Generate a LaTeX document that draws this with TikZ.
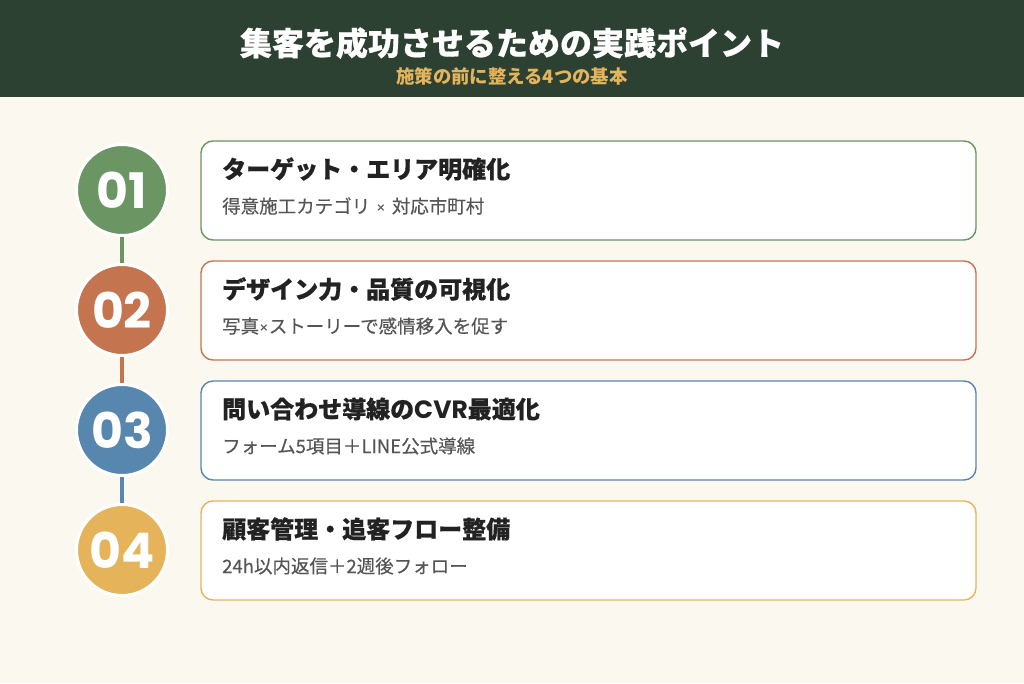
\documentclass[tikz,border=0pt]{standalone}
\usepackage{fontspec}
\setmainfont{Noto Sans CJK JP}
\newfontfamily\numfont{Poppins}
\newfontfamily\medfont{Noto Sans CJK JP}[FakeBold=0.35]
\newfontfamily\heavyfont{Noto Sans CJK JP}[BoldFeatures={FakeBold=0.6}]
\definecolor{bgc}{HTML}{FBF8EF}
\definecolor{headc}{HTML}{2D4133}
\definecolor{goldc}{HTML}{E3B45C}
\definecolor{c1}{HTML}{6B9563}
\definecolor{c2}{HTML}{C4744F}
\definecolor{c3}{HTML}{5786AE}
\definecolor{c4}{HTML}{E5B45A}
\definecolor{tdark}{HTML}{222222}
\definecolor{tgray}{HTML}{555555}
\tikzset{
  numcircle/.style={circle, draw=white, line width=3pt, minimum size=91pt, inner sep=0pt, text=white, font=\numfont\bfseries\fontsize{49}{49}\selectfont},
  cardbox/.style={draw=#1, line width=1.4pt, fill=white, rounded corners=12pt, minimum width=775pt, minimum height=99pt, inner sep=0pt},
  cardtitle/.style={anchor=west, inner sep=0pt, text=tdark, font=\heavyfont\bfseries\fontsize{24}{24}\selectfont},
  cardsub/.style={anchor=west, inner sep=0pt, text=tgray, font=\medfont\fontsize{18.5}{18.5}\selectfont},
  linkline/.style={draw=#1, line width=4pt}
}
\newcommand{\smalltimes}{{\numfont\fontsize{15}{15}\selectfont ×}}
\begin{document}
\begin{tikzpicture}[x=1pt,y=-1pt]
\useasboundingbox (0,0) rectangle (1024,683);
\fill[bgc] (0,0) rectangle (1024,683);
\fill[headc] (0,0) rectangle (1024,97);
\node[inner sep=0pt, text=white, font=\heavyfont\bfseries\fontsize{32}{32}\selectfont] (title) at (512,43) {集客を成功させるための実践ポイント};
\node[inner sep=0pt, text=goldc, font=\bfseries\fontsize{18.4}{18.4}\selectfont] (subtitle) at (512,76) {施策の前に整える4つの基本};
% circles
\coordinate (p1) at (122,190);
\coordinate (p2) at (122,310);
\coordinate (p3) at (122,430);
\coordinate (p4) at (122,550);
\path[linkline=c1] (p1) -- (p2);
\path[linkline=c2] (p2) -- (p3);
\path[linkline=c3] (p3) -- (p4);
\node[numcircle, fill=c1] (n1) at (p1) {01};
\node[numcircle, fill=c2] (n2) at (p2) {02};
\node[numcircle, fill=c3] (n3) at (p3) {03};
\node[numcircle, fill=c4] (n4) at (p4) {04};
% cards
\node[cardbox=c1] (b1) at (588.5,190.5) {};
\node[cardbox=c2] (b2) at (588.5,310.5) {};
\node[cardbox=c3] (b3) at (588.5,430.5) {};
\node[cardbox=c4] (b4) at (588.5,550.5) {};
\node[cardtitle] (t1) at (222,169) {ターゲット・エリア明確化};
\node[cardsub] (s1) at (222,206) {得意施工カテゴリ\hspace{6pt}\smalltimes\hspace{6pt}対応市町村};
\node[cardtitle] (t2) at (222,289) {デザイン力・品質の可視化};
\node[cardsub] (s2) at (222,326) {写真\smalltimes{}ストーリーで感情移入を促す};
\node[cardtitle] (t3) at (222,409) {問い合わせ導線の{\numfont\fontsize{25}{25}\selectfont CVR}最適化};
\node[cardsub] (s3) at (222,446) {フォーム5項目＋LINE公式導線};
\node[cardtitle] (t4) at (222,529) {顧客管理・追客フロー整備};
\node[cardsub] (s4) at (222,566) {24h以内返信＋2週後フォロー};
\end{tikzpicture}
\end{document}
